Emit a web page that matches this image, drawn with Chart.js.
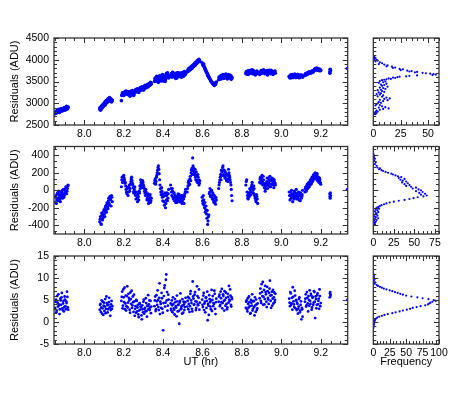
<!DOCTYPE html>
<html><head><meta charset="utf-8">
<script src="https://cdn.jsdelivr.net/npm/chart.js@4.4.1/dist/chart.umd.min.js"></script>
<style>
html,body{margin:0;padding:0;background:#fff;}
#wrap{position:relative;width:476px;height:393px;overflow:hidden;background:#fff}
#wrap canvas{position:absolute;left:0;top:0}
</style></head><body>
<div id="wrap">
<canvas id="c1" width="476" height="393"></canvas>
<canvas id="c2" width="476" height="393"></canvas>
<canvas id="c3" width="476" height="393"></canvas>
<canvas id="h1" width="476" height="393"></canvas>
<canvas id="h2" width="476" height="393"></canvas>
<canvas id="h3" width="476" height="393"></canvas>
</div>
<script>
// ---- observation times (UT, hours); first pass then interleaved second pass ----
const utHours = [
 7.852,7.856,7.860,7.864,7.868,7.872,7.876,7.880,7.884,7.888,7.892,7.896,7.900,7.904,7.908,7.912,7.916,
 8.078,8.082,8.086,8.090,8.094,8.098,8.102,8.106,8.110,8.114,8.118,8.122,8.126,8.130,8.134,8.138,8.142,
 8.188,8.192,8.196,8.200,8.204,8.208,8.212,8.216,8.220,8.224,8.228,8.232,8.236,8.240,8.244,8.248,8.252,8.256,8.260,8.264,8.268,8.272,8.276,8.280,8.284,8.288,8.292,8.296,8.300,8.304,8.308,8.312,8.316,8.320,8.324,8.328,8.332,8.336,8.340,
 8.356,8.360,8.364,8.368,8.372,8.376,8.380,8.384,8.388,8.392,8.396,8.400,8.404,8.408,8.412,8.416,8.420,8.424,8.428,
 8.438,8.442,8.446,8.450,8.454,8.458,8.462,8.466,8.470,8.474,8.478,8.482,8.486,8.490,8.494,8.498,8.502,8.506,8.510,8.514,
 8.522,8.526,8.530,8.534,8.538,8.542,8.546,8.550,8.554,8.558,8.562,8.566,8.570,8.574,8.578,8.582,8.586,
 8.598,8.602,8.606,8.610,8.614,8.618,8.622,8.626,8.630,8.634,8.638,8.642,8.646,8.650,8.654,8.658,8.662,8.666,8.670,
 8.682,8.686,8.690,8.694,8.698,8.702,8.706,8.710,8.714,8.718,8.722,8.726,8.730,8.734,8.738,8.742,8.746,8.750,
 8.820,8.824,8.828,8.832,8.836,8.840,8.844,8.848,8.852,8.856,8.860,8.864,8.868,8.872,8.876,8.880,
 8.890,8.894,8.898,8.902,8.906,8.910,8.914,8.918,8.922,8.926,8.930,8.934,8.938,8.942,8.946,8.950,8.954,8.958,8.962,8.966,8.970,
 9.040,9.044,9.048,9.052,9.056,9.060,9.064,9.068,9.072,9.076,9.080,9.084,9.088,9.092,9.096,9.100,9.104,9.108,
 9.120,9.124,9.128,9.132,9.136,9.140,9.144,9.148,9.152,9.156,9.160,9.164,9.168,9.172,9.176,9.180,9.184,9.188,9.192,9.196,9.200,
 9.246,9.248,9.250,
 9.335,
 7.854,7.858,7.862,7.866,7.870,7.874,7.878,7.882,7.886,7.890,7.894,7.898,7.902,7.906,7.910,7.914,7.918,
 8.080,8.084,8.088,8.092,8.096,8.100,8.104,8.108,8.112,8.116,8.120,8.124,8.128,8.132,8.136,8.140,
 8.190,8.194,8.198,8.202,8.206,8.210,8.214,8.218,8.222,8.226,8.230,8.234,8.238,8.242,8.246,8.250,8.254,8.258,8.262,8.266,8.270,8.274,8.278,8.282,8.286,8.290,8.294,8.298,8.302,8.306,8.310,8.314,8.318,8.322,8.326,8.330,8.334,8.338,
 8.358,8.362,8.366,8.370,8.374,8.378,8.382,8.386,8.390,8.394,8.398,8.402,8.406,8.410,8.414,8.418,8.422,8.426,
 8.440,8.444,8.448,8.452,8.456,8.460,8.464,8.468,8.472,8.476,8.480,8.484,8.488,8.492,8.496,8.500,8.504,8.508,8.512,
 8.524,8.528,8.532,8.536,8.540,8.544,8.548,8.552,8.556,8.560,8.564,8.568,8.572,8.576,8.580,8.584,
 8.600,8.604,8.608,8.612,8.616,8.620,8.624,8.628,8.632,8.636,8.640,8.644,8.648,8.652,8.656,8.660,8.664,8.668,
 8.684,8.688,8.692,8.696,8.700,8.704,8.708,8.712,8.716,8.720,8.724,8.728,8.732,8.736,8.740,8.744,8.748,
 8.822,8.826,8.830,8.834,8.838,8.842,8.846,8.850,8.854,8.858,8.862,8.866,8.870,8.874,8.878,
 8.892,8.896,8.900,8.904,8.908,8.912,8.916,8.920,8.924,8.928,8.932,8.936,8.940,8.944,8.948,8.952,8.956,8.960,8.964,8.968,
 9.042,9.046,9.050,9.054,9.058,9.062,9.066,9.070,9.074,9.078,9.082,9.086,9.090,9.094,9.098,9.102,9.106,
 9.122,9.126,9.130,9.134,9.138,9.142,9.146,9.150,9.154,9.158,9.162,9.166,9.170,9.174,9.178,9.182,9.186,9.190,9.194,9.198,
 9.247,9.249
];
// ---- residuals, top panel (ADU) ----
const residTop = [
 2760,2810,2790,2830,2800,2850,2820,2860,2840,2830,2880,2850,2870,2900,2860,2920,2890,
 2870,2840,2920,2890,2960,2930,3000,2960,3050,3010,3080,3040,3110,3070,3100,3030,3060,
 3060,3200,3230,3180,3260,3220,3280,3240,3200,3270,3230,3160,3210,3250,3290,3230,3200,3270,3310,3260,3330,3290,3250,3320,3360,3310,3380,3340,3300,3370,3410,3350,3390,3430,3380,3450,3410,3480,3440,
 3500,3580,3540,3620,3560,3480,3600,3530,3570,3640,3550,3510,3590,3620,3540,3680,3600,3650,3580,
 3620,3680,3640,3700,3610,3660,3630,3690,3580,3650,3700,3620,3670,3640,3600,3660,3710,3640,3690,3670,
 3720,3760,3740,3800,3770,3830,3800,3860,3840,3900,3870,3940,3910,3980,3950,4010,3960,
 3930,3880,3900,3820,3780,3730,3700,3640,3620,3580,3550,3520,3490,3470,3440,3420,3460,3430,3490,
 3540,3580,3610,3560,3640,3600,3650,3580,3620,3670,3600,3560,3630,3590,3650,3610,3550,3580,
 3680,3730,3700,3660,3750,3710,3690,3740,3770,3720,3680,3710,3650,3700,3740,3690,
 3660,3720,3750,3690,3730,3770,3700,3680,3740,3710,3650,3700,3760,3720,3680,3740,3700,3660,3730,3710,3690,
 3620,3580,3650,3610,3640,3590,3630,3670,3600,3640,3620,3660,3590,3640,3610,3650,3630,3600,
 3640,3680,3660,3700,3680,3720,3700,3690,3730,3710,3750,3740,3770,3800,3780,3810,3770,3790,3750,3780,3760,
 3720,3780,3750,
 3800,
 2800,2770,2840,2810,2860,2790,2840,2880,2820,2870,2850,2900,2840,2880,2930,2870,2910,
 2900,2860,2940,2910,2980,2950,3030,2990,3060,3030,3100,3060,3130,3090,3050,3080,
 3180,3240,3210,3190,3250,3270,3230,3200,3260,3240,3190,3220,3280,3240,3210,3180,3250,3290,3270,3300,3270,3310,3280,3340,3300,3350,3320,3370,3330,3390,3360,3400,3370,3420,3400,3460,3430,3470,
 3560,3520,3610,3580,3490,3550,3630,3570,3510,3600,3660,3530,3570,3500,3610,3640,3700,3620,
 3660,3600,3710,3640,3680,3620,3570,3660,3700,3630,3680,3650,3610,3700,3640,3680,3620,3730,3660,
 3740,3790,3760,3820,3790,3850,3830,3880,3860,3920,3890,3950,3930,3990,3970,3990,
 3900,3860,3850,3800,3760,3720,3680,3650,3600,3570,3540,3500,3480,3450,3430,3410,3440,3470,
 3600,3560,3630,3590,3620,3660,3570,3630,3600,3640,3580,3610,3660,3620,3580,3630,3600,
 3710,3670,3740,3700,3690,3730,3760,3700,3680,3750,3720,3670,3710,3680,3720,
 3700,3680,3740,3720,3700,3740,3720,3690,3710,3750,3680,3730,3700,3740,3760,3690,3720,3680,3700,3740,
 3600,3640,3590,3660,3620,3610,3650,3620,3590,3630,3660,3600,3630,3590,3640,3620,3640,
 3670,3650,3690,3670,3710,3690,3720,3710,3700,3740,3720,3760,3780,3760,3800,3790,3760,3780,3770,3750,
 3690,3770
];
// ---- residuals, middle panel (ADU) ----
const residMid = [
 -140,-60,-110,-30,-90,-50,-100,-20,-70,0,-40,-80,10,-30,30,-10,50,
 -360,-300,-390,-280,-320,-240,-270,-200,-230,-160,-190,-120,-150,-70,-110,-60,-130,
 40,150,110,170,120,90,10,-40,30,-20,60,20,100,150,80,30,-10,40,-60,-20,-90,-40,-110,-30,20,90,50,110,60,20,-30,10,-50,-90,-40,-120,-70,-140,-90,
 80,130,100,170,230,280,190,60,-20,30,-80,-40,-130,-60,-200,-110,-30,-90,10,
 60,-20,20,-80,-40,-120,-60,-100,-140,-70,-110,-50,-130,-90,-60,-120,-80,-150,-40,10,
 -20,50,110,70,160,200,250,370,220,180,240,120,170,90,150,60,110,
 -80,-150,-110,-200,-250,-180,-320,-390,-300,-40,20,-60,0,-100,-50,-140,-90,-160,-110,
 20,90,150,120,210,260,180,230,140,190,110,170,130,200,150,90,10,-120,
 60,120,-60,-100,-40,20,-20,40,90,0,50,-50,-90,-130,-70,-150,
 90,150,110,170,60,120,30,-10,50,100,20,140,80,160,40,110,70,130,30,90,60,
 -20,-110,-60,0,-80,-40,-100,-30,-70,10,-60,-90,-20,-50,-120,-40,-70,0,
 -20,40,10,70,30,90,60,120,80,150,110,180,140,200,130,170,110,150,90,120,70,
 -40,-90,-60,
 10,
 -80,-150,-40,-120,-10,-70,-130,-50,-20,-90,10,-60,-20,40,-40,20,60,
 -330,-380,-260,-340,-290,-220,-300,-180,-250,-140,-210,-90,-170,-100,-180,-80,
 120,90,160,140,80,50,-20,20,-60,40,-10,70,130,110,60,-30,10,-40,-100,-50,-130,-70,-10,50,120,70,30,90,40,-10,-60,-20,-110,-60,-150,-100,-50,-120,
 110,70,150,200,260,240,120,20,-50,-10,-120,-70,-170,-30,-150,-60,-120,-40,
 20,-60,-10,-100,-30,-80,-140,-90,-120,-40,-80,-130,-70,-110,-150,-60,-100,-70,-20,
 20,90,60,130,110,230,180,280,250,200,150,210,100,180,120,80,
 -120,-60,-170,-140,-220,-270,-230,-350,-280,-20,-70,-10,-80,-30,-120,-60,-130,-80,
 60,120,180,230,170,280,220,160,210,130,180,100,240,170,120,60,-60,
 100,-20,-90,-30,-70,10,-50,60,30,-30,20,-70,-110,-50,-100,
 130,80,140,100,160,80,60,20,80,140,60,110,40,120,70,140,100,60,120,80,
 -60,-20,-90,-40,-130,-60,-10,-80,-50,-100,-30,-70,-110,-60,-30,-90,-50,
 20,-10,50,20,80,40,100,70,130,100,160,130,190,160,140,190,130,100,140,90,
 -70,-30
];
// ---- residuals, bottom panel (ADU) ----
const residBot = [
 3.2,5.1,2.6,4.4,6.3,3.8,2.9,4.9,5.6,3.1,4.2,2.4,5.8,3.6,4.7,6.9,3.3,
 2.8,4.1,3.3,1.9,4.6,3.7,2.5,5.2,3.0,4.3,2.2,3.9,5.5,3.4,2.7,4.8,3.6,
 4.8,6.9,3.7,5.6,7.8,4.2,2.6,5.9,3.3,6.4,4.9,2.1,5.2,7.1,3.8,4.5,6.2,1.4,3.6,5.0,2.4,3.9,1.1,4.3,2.8,3.4,0.6,2.9,4.6,1.9,3.2,5.4,2.5,3.7,6.1,4.0,2.7,4.8,3.5,
 3.6,5.8,2.9,4.7,7.2,3.4,5.5,1.8,4.1,6.6,3.0,-1.9,5.9,8.3,4.4,10.8,6.8,3.7,5.1,
 4.2,2.6,3.8,5.6,3.1,1.7,4.5,3.3,6.0,2.4,3.9,-0.4,4.8,2.9,3.6,5.2,2.1,4.0,3.4,5.5,
 3.5,5.7,4.1,2.3,6.4,4.9,3.0,9.2,5.3,4.0,6.8,2.7,4.6,5.9,3.8,7.4,4.4,
 5.1,3.4,6.6,4.2,2.2,5.6,4.8,0.4,3.7,6.1,4.5,2.9,7.3,5.0,3.6,4.1,6.4,1.8,5.3,
 4.6,6.2,3.9,5.4,7.5,4.3,5.9,2.6,5.0,6.7,4.1,3.3,5.7,8.2,4.8,6.0,3.5,5.2,
 3.2,4.9,2.4,4.1,5.8,3.6,2.0,4.4,6.3,3.0,4.7,1.5,3.8,5.1,2.7,4.2,
 5.4,7.6,4.3,6.8,9.1,5.7,4.0,8.2,6.3,3.4,7.0,5.1,6.6,9.4,4.8,6.1,3.7,7.3,5.6,4.5,6.4,
 5.3,3.6,6.5,4.2,2.8,5.7,4.0,7.1,3.1,5.0,4.4,1.9,3.5,5.6,2.6,4.7,3.2,1.2,
 4.6,6.3,3.8,5.5,2.4,5.0,7.2,4.1,6.0,3.3,5.7,4.4,6.8,0.9,5.2,3.9,6.5,4.8,3.0,5.9,4.3,
 5.6,6.8,6.2,
 5.0,
 4.6,2.2,5.9,3.5,4.0,1.8,5.3,3.9,6.6,2.7,4.8,3.4,5.1,2.9,4.3,5.7,2.8,
 3.9,2.3,4.9,3.1,1.6,4.4,3.5,2.0,5.8,3.8,2.9,4.5,3.2,1.4,4.0,3.0,
 5.7,3.1,7.4,4.5,2.9,6.0,3.6,8.1,4.4,5.5,2.8,6.7,4.1,3.2,5.8,2.3,4.7,3.0,2.1,4.8,3.3,1.7,2.6,4.1,3.5,1.5,3.8,2.2,5.1,3.0,2.4,4.3,1.2,3.6,2.9,4.9,3.3,2.0,
 4.9,2.5,6.1,3.9,5.0,2.7,8.8,4.6,3.2,5.4,2.1,4.3,7.7,3.5,9.6,4.9,2.6,6.2,
 3.0,4.9,2.2,4.1,2.8,5.2,3.6,1.3,4.7,3.9,2.5,4.4,6.5,3.1,1.9,3.8,4.6,2.7,4.5,
 4.8,2.9,5.4,3.6,7.0,4.3,2.4,5.8,3.9,6.2,4.7,3.2,8.1,4.0,5.5,2.8,
 3.9,6.0,2.7,4.6,5.5,3.2,6.9,4.1,1.6,5.2,3.5,4.9,2.5,5.9,4.3,7.1,3.0,4.5,
 5.8,3.6,6.9,4.5,3.1,6.3,4.8,7.0,3.7,5.5,2.9,6.4,4.4,5.1,7.4,3.9,5.6,
 4.6,2.9,5.4,3.3,4.5,1.9,5.0,3.7,2.6,4.8,3.4,5.6,2.3,4.0,3.1,
 6.5,4.8,8.6,5.9,3.9,7.3,5.2,6.8,4.6,8.0,5.5,4.1,7.6,6.0,3.2,6.9,5.3,4.2,6.7,5.0,
 4.4,6.8,3.9,5.5,7.9,4.7,3.4,6.0,4.9,2.7,4.1,3.0,5.2,2.2,3.9,0.6,2.9,
 5.3,3.5,6.8,4.2,5.9,3.7,4.8,6.4,2.8,5.5,3.9,7.0,4.6,5.8,3.1,6.1,4.0,5.3,7.4,3.6,
 6.5,5.9
];
// ---- histograms: bin value (ADU) and frequency ----
const histTopADU = [4060,4040,4020,4000,3980,3960,3940,3920,3900,3890,3870,3850,3840,3820,3810,3790,3780,3760,3750,3740,3730,3720,3710,3700,3690,3680,3670,3660,3650,3640,3630,3620,3610,3600,3590,3580,3570,3560,3550,3540,3530,3510,3500,3480,3470,3450,3430,3420,3400,3380,3360,3350,3330,3310,3300,3280,3260,3250,3230,3210,3200,3180,3160,3150,3130,3110,3100,3080,3070,3050,3030,3010,3000,2980,2960,2950,2930,2910,2900,2880,2870,2850,2830,2810,2800,2780,2760,2750];
const histTopFreq = [1,2,1,3,4,2,6,8,5,10,13,12,17,20,18,24,27,25,31,35,33,40,38,45,48,52,55,57,54,40,33,30,24,22,18,20,14,16,12,10,8,6,11,9,5,12,7,10,8,13,6,9,11,7,4,8,10,5,7,3,6,9,4,8,12,15,10,6,13,9,5,7,4,3,6,2,8,11,5,14,9,6,3,4,2,3,1,2];
const histMidADU = [420,400,380,360,340,320,300,280,260,250,240,230,220,210,200,190,180,170,160,150,140,130,120,110,100,90,80,70,60,50,40,30,20,10,0,-10,-20,-30,-40,-50,-60,-70,-80,-90,-100,-110,-120,-130,-140,-150,-160,-170,-180,-190,-200,-210,-220,-230,-240,-250,-260,-270,-280,-290,-300,-310,-320,-330,-340,-350,-360,-370,-380,-390,-400];
const histMidFreq = [0,1,1,2,1,3,2,4,5,8,7,10,12,15,18,22,24,27,30,34,31,38,33,36,40,35,42,38,44,40,46,52,48,55,58,52,60,56,63,58,65,61,54,49,44,38,31,25,20,16,13,10,8,6,4,7,3,5,2,6,3,4,1,5,2,3,6,2,4,1,3,2,1,2,0];
const histBotADU = [11.0,10.6,10.2,9.8,9.4,9.0,8.7,8.4,8.2,8.0,7.8,7.6,7.4,7.2,7.0,6.8,6.6,6.4,6.2,6.0,5.8,5.6,5.4,5.2,5.0,4.8,4.6,4.4,4.2,4.0,3.8,3.6,3.4,3.2,3.0,2.8,2.6,2.4,2.2,2.0,1.8,1.6,1.4,1.2,1.0,0.8,0.6,0.4,0.2,0.0,-0.2,-0.4,-0.6,-0.8,-1.0,-1.2,-1.4];
const histBotFreq = [0,1,1,2,1,3,2,5,7,10,13,16,20,25,29,33,37,41,45,50,58,67,75,84,92,95,90,87,85,83,79,72,66,60,56,51,45,40,34,29,22,17,13,9,6,4,3,2,2,1,1,0,1,0,0,0,0];
// ---- tick labels ----
const utTicks = [8.0, 8.2, 8.4, 8.6, 8.8, 9.0, 9.2];
const topTicks = [2500, 3000, 3500, 4000, 4500];
const midTicks = [-400, -200, 0, 200, 400];
const botTicks = [-5, 0, 5, 10, 15];
const histTopTicks = [0, 25, 50];
const histMidTicks = [0, 25, 50, 75];
const histBotTicks = [0, 25, 50, 75, 100];

const FONT = '"Liberation Sans", Arial, Helvetica, sans-serif';
Chart.defaults.font.family = FONT;
Chart.defaults.color = '#000';
const BLUE = 'rgb(0,0,255)';
const W = 476, H = 393;

const frameTicks = {
  id: 'frameTicks',
  afterDraw(chart, args, o) {
    const {ctx, chartArea: a, scales: {x, y}} = chart;
    ctx.save();
    ctx.strokeStyle = '#333';
    ctx.lineWidth = 1;
    ctx.beginPath();
    const mk = (scale, step, len, horiz) => {
      const start = Math.ceil((scale.min - 1e-9) / step) * step;
      for (let k = 0; k < 500; k++) {
        const v = start + k * step;
        if (v > scale.max + 1e-9) break;
        const p = Math.round(scale.getPixelForValue(v)) + 0.5;
        if (horiz) { ctx.moveTo(p, a.bottom); ctx.lineTo(p, a.bottom - len); ctx.moveTo(p, a.top); ctx.lineTo(p, a.top + len); }
        else { ctx.moveTo(a.left, p); ctx.lineTo(a.left + len, p); ctx.moveTo(a.right, p); ctx.lineTo(a.right - len, p); }
      }
    };
    mk(x, o.xMinor, 3, true); mk(x, o.xMajor, 5, true);
    mk(y, o.yMinor, 3, false); mk(y, o.yMajor, 5, false);
    ctx.stroke();
    ctx.lineWidth = 1.3;
    ctx.strokeRect(a.left, a.top, a.right - a.left, a.bottom - a.top);
    ctx.restore();
  }
};

function makePanel(id, c) {
  const yW = c.yTitle ? 54 : 0;
  const xH = c.xTitle ? 30 : 20;
  const yScale = c.yTitle ? {
      type: 'linear', min: c.yMin, max: c.yMax,
      grid: {display: false, drawTicks: false}, border: {display: false},
      afterBuildTicks: s => { s.ticks = c.yTicks.map(v => ({value: v})); },
      afterFit: s => { s.width = yW; },
      ticks: {font: {size: 10.5}, padding: 5, autoSkip: false, callback: v => String(v)},
      title: {display: true, text: c.yTitle, font: {size: 11}, padding: {top: 8, bottom: 0}}
    } : {type: 'linear', display: false, min: c.yMin, max: c.yMax};
  new Chart(document.getElementById(id), {
    type: 'scatter',
    data: {datasets: [{data: c.data, backgroundColor: BLUE, borderWidth: 0,
      pointRadius: c.radius, pointHoverRadius: c.radius}]},
    options: {
      responsive: false, animation: false, devicePixelRatio: 1, events: [],
      layout: {padding: {left: c.area.l - yW, top: c.area.t, right: W - c.area.r, bottom: H - c.area.b - xH}},
      plugins: {legend: {display: false}, tooltip: {enabled: false}, frameTicks: c.tk},
      scales: {
        x: {
          type: 'linear', min: c.xMin, max: c.xMax,
          grid: {display: false, drawTicks: false}, border: {display: false},
          afterBuildTicks: s => { s.ticks = c.xTicks.map(v => ({value: v})); },
          afterFit: s => { s.height = xH; },
          ticks: {font: {size: 10.5}, padding: 3, maxRotation: 0, autoSkip: false, callback: c.xFmt},
          title: c.xTitle ? {display: true, text: c.xTitle, font: {size: 11}, padding: {top: 0, bottom: 5}} : {display: false}
        },
        y: yScale
      }
    },
    plugins: [frameTicks]
  });
}

const pts = res => utHours.map((t, i) => ({x: t, y: res[i]}));
const hpts = (adu, fr) => adu.map((v, i) => ({x: fr[i], y: v}));
const fmt1 = v => v.toFixed(1);
const fmt0 = v => String(v);
const UTMIN = 7.846, UTMAX = 9.337;
const rows = [
  {t: 38, b: 125, ymin: 2500, ymax: 4500, yt: topTicks, ymaj: 500, ymin2: 100, res: residTop, rad: 1.8, hA: histTopADU, hF: histTopFreq, hmax: 60, ht: histTopTicks},
  {t: 146.5, b: 234, ymin: -500, ymax: 500, yt: midTicks, ymaj: 200, ymin2: 200/3, res: residMid, rad: 1.6, hA: histMidADU, hF: histMidFreq, hmax: 80, ht: histMidTicks},
  {t: 256, b: 344, ymin: -5, ymax: 15, yt: botTicks, ymaj: 5, ymin2: 1, res: residBot, rad: 1.4, hA: histBotADU, hF: histBotFreq, hmax: 100, ht: histBotTicks}
];
rows.forEach((r, i) => {
  const last = i === 2;
  makePanel('c' + (i + 1), {
    area: {l: 54, t: r.t, r: 347.7, b: r.b},
    xMin: UTMIN, xMax: UTMAX, yMin: r.ymin, yMax: r.ymax,
    xTicks: utTicks, yTicks: r.yt, xFmt: fmt1,
    yTitle: 'Residuals (ADU)', xTitle: last ? 'UT (hr)' : null,
    data: pts(r.res), radius: r.rad,
    tk: {xMinor: 0.05, xMajor: 0.2, yMinor: r.ymin2, yMajor: r.ymaj}
  });
  makePanel('h' + (i + 1), {
    area: {l: 373.3, t: r.t, r: 439, b: r.b},
    xMin: 0, xMax: r.hmax, yMin: r.ymin, yMax: r.ymax,
    xTicks: r.ht, yTicks: [], xFmt: fmt0,
    yTitle: null, xTitle: last ? 'Frequency' : null,
    data: hpts(r.hA, r.hF), radius: 1.1,
    tk: {xMinor: 5, xMajor: 25, yMinor: r.ymin2, yMajor: r.ymaj}
  });
});
</script>
</body></html>
